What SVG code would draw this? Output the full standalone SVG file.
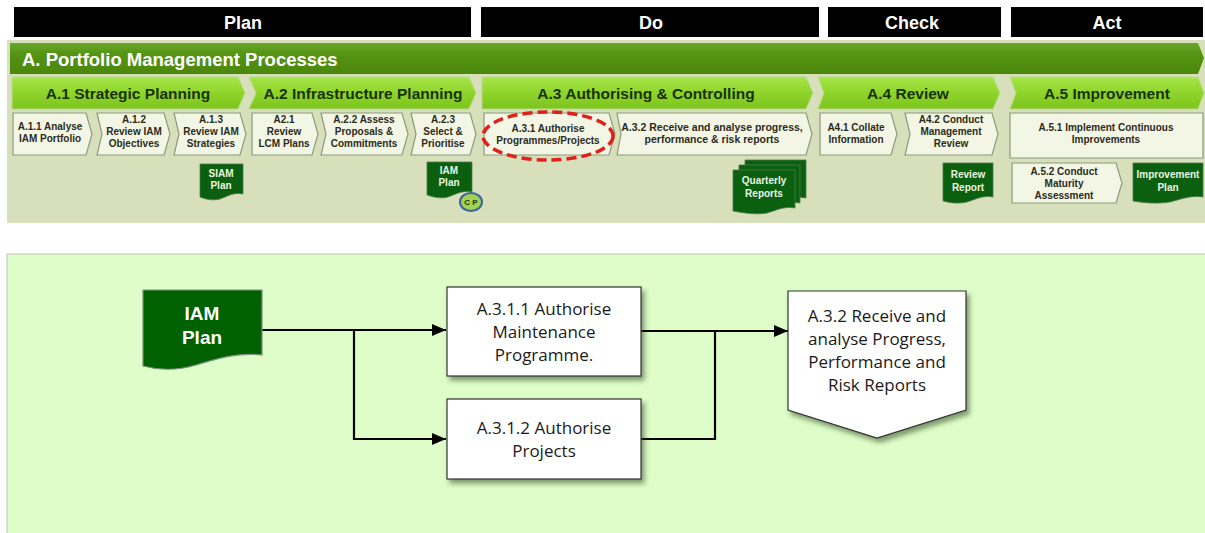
<svg xmlns="http://www.w3.org/2000/svg" width="1205" height="533" viewBox="0 0 1205 533">
  <style>
    .hdr { font-family: "Liberation Sans", Arial, sans-serif; font-weight: bold; font-size: 18px; fill: #ffffff; text-anchor: middle; }
    .band { font-family: "Liberation Sans", Arial, sans-serif; font-weight: bold; font-size: 18.5px; fill: #ffffff; }
    .phase { font-family: "Liberation Sans", Arial, sans-serif; font-weight: bold; font-size: 15.5px; fill: #173300; text-anchor: middle; }
    .sub { font-family: "Liberation Sans", Arial, sans-serif; font-weight: bold; font-size: 10px; fill: #2b2b1c; text-anchor: middle; }
    .doc { font-family: "Liberation Sans", Arial, sans-serif; font-weight: bold; font-size: 10px; fill: #e8f5e0; text-anchor: middle; }
    .cp { font-family: "Liberation Sans", Arial, sans-serif; font-weight: bold; font-size: 8px; fill: #1d3a10; text-anchor: middle; }
    .lbl { font-family: "Open Sans", "Liberation Sans", Arial, sans-serif; font-size: 17px; fill: #1a1a1a; text-anchor: middle; }
    .big { font-family: "Liberation Sans", Arial, sans-serif; font-weight: bold; font-size: 19px; fill: #ffffff; text-anchor: middle; }
    .subbox { fill: #f3f6e4; stroke: #8c9a7e; stroke-width: 1.2; }
    .phasebox { fill: url(#lime); stroke: #b9dc8a; stroke-width: 1; }
    .gdoc { fill: #0b600f; stroke: #4d7a4d; stroke-width: 0.8; }
    .wbox { fill: #ffffff; stroke: #333333; stroke-width: 1.2; filter: url(#shadow); }
    .wire { fill: none; stroke: #000000; stroke-width: 2.2; }
  </style>
  <defs>
    <linearGradient id="lime" x1="0" y1="0" x2="0" y2="1">
      <stop offset="0" stop-color="#a6e64a"/>
      <stop offset="0.5" stop-color="#8fd42a"/>
      <stop offset="1" stop-color="#7cc41e"/>
    </linearGradient>
    <linearGradient id="dark" x1="0" y1="0" x2="0" y2="1">
      <stop offset="0" stop-color="#6aa82a"/>
      <stop offset="0.35" stop-color="#559313"/>
      <stop offset="1" stop-color="#4a870c"/>
    </linearGradient>
    <filter id="shadow" x="-10%" y="-10%" width="130%" height="135%">
      <feDropShadow dx="3" dy="4" stdDeviation="2.5" flood-color="#2d4a1d" flood-opacity="0.55"/>
    </filter>
    <marker id="arrow" markerUnits="userSpaceOnUse" markerWidth="14" markerHeight="14" viewBox="0 0 14 14" refX="14" refY="7" orient="auto">
      <path d="M0,1 L14,7 L0,13 Z" fill="#000000"/>
    </marker>
  </defs>

  <rect x="0" y="0" width="1205" height="533" fill="#ffffff"/>

  <!-- PDCA header bars -->
  <g id="pdca">
    <rect x="14" y="7" width="457" height="30" fill="#000000"/>
    <text class="hdr" x="243" y="29">Plan</text>
    <rect x="481" y="7" width="338" height="30" fill="#000000"/>
    <text class="hdr" x="651" y="29">Do</text>
    <rect x="828" y="7" width="173" height="30" fill="#000000"/>
    <text class="hdr" x="912" y="29">Check</text>
    <rect x="1011" y="7" width="192" height="30" fill="#000000"/>
    <text class="hdr" x="1107" y="29">Act</text>
  </g>

  <!-- process map panel -->
  <g id="process-map">
    <rect x="7" y="40" width="1198" height="183" fill="#d8e0bb"/>
    <path d="M10,43 H1198 L1204,58 L1198,74 H10 Z" fill="url(#dark)"/>
    <text class="band" x="22" y="66">A. Portfolio Management Processes</text>

    <!-- phase chevrons -->
    <g id="phase-a1"><path class="phasebox" d="M12,77 H238 L245,93 L238,109 H12 Z"/><text class="phase" x="128" y="99">A.1 Strategic Planning</text></g>
    <g id="phase-a2"><path class="phasebox" d="M249,77 H469 L476,93 L469,109 H249 L256,93 Z"/><text class="phase" x="363" y="99">A.2 Infrastructure Planning</text></g>
    <g id="phase-a3"><path class="phasebox" d="M482,77 H806 L813,93 L806,109 H482 Z"/><text class="phase" x="646" y="99">A.3 Authorising &amp; Controlling</text></g>
    <g id="phase-a4"><path class="phasebox" d="M818,77 H993 L1000,93 L993,109 H818 L824,93 Z"/><text class="phase" x="908" y="99">A.4 Review</text></g>
    <g id="phase-a5"><path class="phasebox" d="M1010,77 H1198 L1204,93 L1198,109 H1010 L1016,93 Z"/><text class="phase" x="1107" y="99">A.5 Improvement</text></g>

    <!-- sub-process chevrons -->
    <g id="a111"><path class="subbox" d="M13,113 H86 L92,134 L86,155 H13 Z"/>
      <text class="sub" x="50" y="130">A.1.1  Analyse</text><text class="sub" x="50" y="142">IAM Portfolio</text></g>
    <g id="a112"><path class="subbox" d="M97,113 H164 L170,134 L164,155 H97 L102,134 Z"/>
      <text class="sub" x="134" y="123">A.1.2</text><text class="sub" x="134" y="135">Review IAM</text><text class="sub" x="134" y="147">Objectives</text></g>
    <g id="a113"><path class="subbox" d="M174,113 H240 L246,134 L240,155 H174 L179,134 Z"/>
      <text class="sub" x="211" y="123">A.1.3</text><text class="sub" x="211" y="135">Review IAM</text><text class="sub" x="211" y="147">Strategies</text></g>
    <g id="a221"><path class="subbox" d="M252,113 H312 L318,134 L312,155 H252 Z"/>
      <text class="sub" x="284" y="123">A2.1</text><text class="sub" x="284" y="135">Review</text><text class="sub" x="284" y="147">LCM Plans</text></g>
    <g id="a222"><path class="subbox" d="M321,113 H402 L408,134 L402,155 H321 L326,134 Z"/>
      <text class="sub" x="364" y="123">A.2.2  Assess</text><text class="sub" x="364" y="135">Proposals &amp;</text><text class="sub" x="364" y="147">Commitments</text></g>
    <g id="a223"><path class="subbox" d="M411,113 H470 L476,134 L470,155 H411 L416,134 Z"/>
      <text class="sub" x="443" y="123">A.2.3</text><text class="sub" x="443" y="135">Select &amp;</text><text class="sub" x="443" y="147">Prioritise</text></g>
    <g id="a231"><path class="subbox" d="M484,113 H609 L615,134 L609,155 H484 Z"/>
      <text class="sub" x="548" y="132">A.3.1  Authorise</text><text class="sub" x="548" y="144">Programmes/Projects</text></g>
    <g id="a232"><path class="subbox" d="M617,113 H806 L812,134 L806,155 H617 L621,134 Z"/>
      <text class="sub" x="712" y="131" style="font-size:10.5px">A.3.2   Receive and analyse progress,</text><text class="sub" x="712" y="143" style="font-size:10.5px">performance &amp; risk reports</text></g>
    <g id="a241"><path class="subbox" d="M820,113 H891 L897,134 L891,155 H820 Z"/>
      <text class="sub" x="856" y="131">A4.1  Collate</text><text class="sub" x="856" y="143">Information</text></g>
    <g id="a242"><path class="subbox" d="M905,113 H992 L998,134 L992,155 H905 L910,134 Z"/>
      <text class="sub" x="951" y="123">A4.2  Conduct</text><text class="sub" x="951" y="135">Management</text><text class="sub" x="951" y="147">Review</text></g>
    <g id="a251"><path class="subbox" d="M1010,113 H1203 V158 H1010 Z"/>
      <text class="sub" x="1106" y="131">A.5.1 Implement Continuous</text><text class="sub" x="1106" y="143">Improvements</text></g>
    <g id="a252"><path class="subbox" d="M1012,163 H1116 L1122,183 L1116,203 H1012 Z"/>
      <text class="sub" x="1064" y="175">A.5.2  Conduct</text><text class="sub" x="1064" y="187">Maturity</text><text class="sub" x="1064" y="199">Assessment</text></g>

    <!-- output documents -->
    <g id="doc-siam"><path class="gdoc" d="M200,164 H243 V194 C234,192 228,196 220,199 C212,201 205,199 200,197 Z"/>
      <text class="doc" x="221" y="177">SIAM</text><text class="doc" x="221" y="189">Plan</text></g>
    <g id="doc-iam"><path class="gdoc" d="M427,162 H472 V192 C463,190 456,194 448,197 C440,199 433,197 427,195 Z"/>
      <text class="doc" x="449" y="174">IAM</text><text class="doc" x="449" y="186">Plan</text></g>
    <g id="cp-badge"><ellipse cx="471" cy="202" rx="11" ry="9" fill="#a2d24e" stroke="#3a64a6" stroke-width="2"/>
      <text class="cp" x="471" y="205">C P</text></g>
    <g id="doc-quarterly">
      <path class="gdoc" d="M745,160 H806 V198 C796,196 788,200 778,203 C768,205 755,203 745,201 Z"/>
      <path class="gdoc" d="M739,165 H800 V203 C790,201 782,205 772,208 C762,210 749,208 739,206 Z"/>
      <path class="gdoc" d="M733,170 H795 V208 C785,206 777,210 767,213 C757,215 743,213 733,211 Z"/>
      <text class="doc" x="764" y="184">Quarterly</text><text class="doc" x="764" y="197">Reports</text></g>
    <g id="doc-review"><path class="gdoc" d="M943,163 H993 V197 C984,195 976,199 967,202 C959,204 950,203 943,201 Z"/>
      <text class="doc" x="968" y="178">Review</text><text class="doc" x="968" y="191">Report</text></g>
    <g id="doc-improve"><path class="gdoc" d="M1133,163 H1203 V197 C1192,195 1181,199 1170,202 C1158,204 1144,203 1133,201 Z"/>
      <text class="doc" x="1168" y="178">Improvement</text><text class="doc" x="1168" y="191">Plan</text></g>

    <ellipse id="focus-ring" cx="548" cy="136" rx="65" ry="24" fill="none" stroke="#e0201a" stroke-width="3.5" stroke-dasharray="10 5"/>
  </g>

  <!-- detail panel -->
  <rect x="7" y="254" width="1199" height="280" fill="#dffdc9" stroke="#c6cbc2" stroke-width="1.2"/>

  <g id="connectors">
    <path class="wire" d="M262,330 H446" marker-end="url(#arrow)"/>
    <path class="wire" d="M354,330 V439 H446" marker-end="url(#arrow)"/>
    <path class="wire" d="M641,331 H788" marker-end="url(#arrow)"/>
    <path class="wire" d="M641,439 H715 V331"/>
  </g>

  <g id="iam-plan">
    <path d="M143,290 H262 V355 C238,352 216,359 196,365 C176,371 158,370 143,366 Z" fill="#006100" stroke="#7d8f7d" stroke-width="1.2"/>
    <text class="big" x="202" y="320">IAM</text>
    <text class="big" x="202" y="344">Plan</text>
  </g>

  <g id="a3-1-1">
    <rect class="wbox" x="447" y="287" width="194" height="89"/>
    <text class="lbl" x="544" y="315">A.3.1.1 Authorise</text>
    <text class="lbl" x="544" y="338">Maintenance</text>
    <text class="lbl" x="544" y="361">Programme.</text>
  </g>

  <g id="a3-1-2">
    <rect class="wbox" x="447" y="399" width="194" height="80"/>
    <text class="lbl" x="544" y="434">A.3.1.2 Authorise</text>
    <text class="lbl" x="544" y="457">Projects</text>
  </g>

  <g id="a3-2">
    <path class="wbox" d="M788,291 H966 V410 L877,438 L788,410 Z"/>
    <text class="lbl" x="877" y="322">A.3.2 Receive and</text>
    <text class="lbl" x="877" y="345">analyse Progress,</text>
    <text class="lbl" x="877" y="368">Performance and</text>
    <text class="lbl" x="877" y="391">Risk Reports</text>
  </g>
</svg>
